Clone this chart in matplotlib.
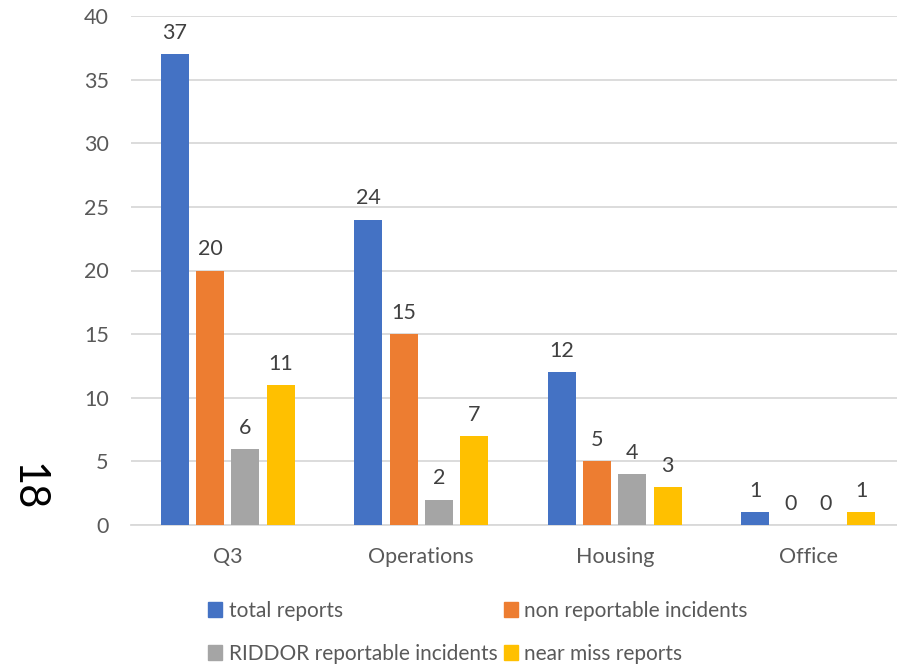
import numpy as np
import matplotlib.pyplot as plt
from matplotlib.patches import Patch

plt.rcParams['font.family'] = ['Lato', 'DejaVu Sans']

# incident counts per area
categories = ["Q3", "Operations", "Housing", "Office"]
series_names = ["total reports", "non reportable incidents",
                "RIDDOR reportable incidents", "near miss reports"]
total_reports = [37, 24, 12, 1]
non_reportable = [20, 15, 5, 0]
riddor = [6, 2, 4, 0]
near_miss = [11, 7, 3, 1]
colors = ["#4472C4", "#ED7D31", "#A5A5A5", "#FFC000"]

series = [total_reports, non_reportable, riddor, near_miss]
fs = 15.5

fig = plt.figure(figsize=(8.97, 6.69), dpi=100)
ax = fig.add_axes([131/897, 1 - 525/669, 774/897, 509/669])

x = np.arange(len(categories))
step = 0.1825
width = 0.145
for i, (vals, col) in enumerate(zip(series, colors)):
    pos = x + (i - 1.5) * step
    bars = ax.bar(pos, vals, width, color=col, zorder=3)
    for b, v in zip(bars, vals):
        ax.annotate(str(v), (b.get_x() + b.get_width()/2, v),
                    xytext=(0, 8), textcoords="offset points",
                    ha="center", va="bottom", fontsize=fs, color="#404040")

ax.set_xlim(-0.5, len(categories) - 0.5)
ax.set_ylim(0, 40)
ax.set_yticks(range(0, 41, 5))
ax.set_xticks(x)
ax.set_xticklabels(categories)
ax.tick_params(axis="both", length=0, labelsize=fs, colors="#595959")
ax.tick_params(axis="y", pad=16)
ax.tick_params(axis="x", pad=16)
ax.grid(axis="y", color="#D9D9D9", linewidth=1.3, zorder=0)
for s in ["top", "right", "left"]:
    ax.spines[s].set_visible(False)
ax.spines["bottom"].set_color("#D9D9D9")
ax.spines["bottom"].set_linewidth(1.3)

# legend reads row by row: total | non reportable, RIDDOR | near miss
handles = [Patch(color=c, label=n) for c, n in zip(colors, series_names)]
order = [0, 2, 1, 3]
fig.legend(handles=[handles[k] for k in order], ncol=2, loc="upper left",
           bbox_to_anchor=(189/897, 1 - 582/669), frameon=False,
           fontsize=15, labelcolor="#595959", handlelength=0.7,
           handleheight=0.7, handletextpad=0.3, columnspacing=0.3,
           labelspacing=1.1)

fig.text(28/897, 1 - 487/669, "18", rotation=-90, fontsize=30,
         ha="center", va="center", color="black")

fig.savefig("out.png", dpi=100)
